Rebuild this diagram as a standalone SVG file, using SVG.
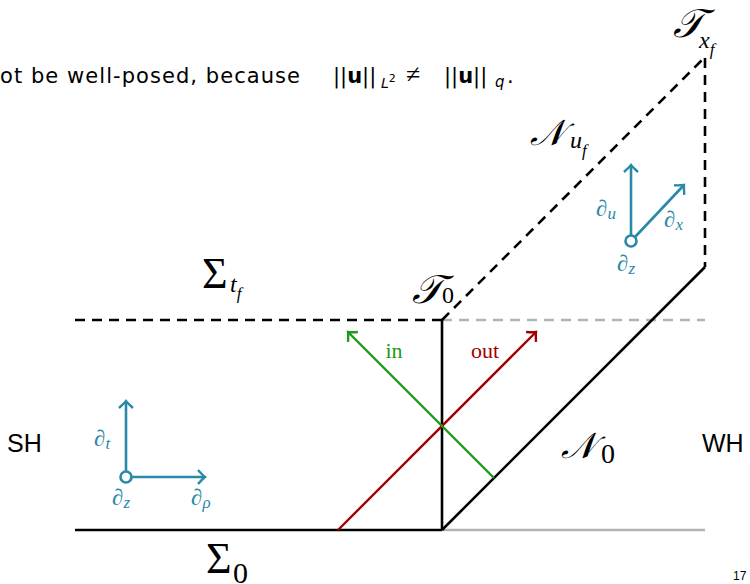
<svg xmlns="http://www.w3.org/2000/svg" width="750" height="584" viewBox="0 0 750 584">
<style>
.sans{font-family:"Liberation Sans","DejaVu Sans",sans-serif;fill:#000}
.top{font-family:"DejaVu Sans","Liberation Sans",sans-serif;fill:#000}
.m{font-family:"Liberation Serif","DejaVu Serif",serif}
.mi{font-family:"Liberation Serif","DejaVu Serif",serif;font-style:italic}
.cal{font-family:"DejaVu Serif","Liberation Serif",serif;font-style:italic}
.teal{fill:#2a88a8}
.tl{stroke:#2a88a8;stroke-width:2.6;fill:none}
.bk{stroke:#000;stroke-width:2.6;fill:none}
.gr{stroke:#b3b3b3;stroke-width:2.6;fill:none}
.dash{stroke-dasharray:10 7}
</style>
<defs>
<marker id="aT" markerUnits="userSpaceOnUse" markerWidth="20" markerHeight="20" refX="0" refY="0" viewBox="-10 -10 20 20" orient="auto"><path d="M-7,-7 Q-2,-1.5 0,0 Q-2,1.5 -7,7" fill="none" stroke="#2a88a8" stroke-width="2.4"/></marker>
<marker id="aG" markerUnits="userSpaceOnUse" markerWidth="20" markerHeight="20" refX="0" refY="0" viewBox="-10 -10 20 20" orient="auto"><path d="M-7,-7 Q-2,-1.5 0,0 Q-2,1.5 -7,7" fill="none" stroke="#1d9a1d" stroke-width="2.4"/></marker>
<marker id="aR" markerUnits="userSpaceOnUse" markerWidth="20" markerHeight="20" refX="0" refY="0" viewBox="-10 -10 20 20" orient="auto"><path d="M-7,-7 Q-2,-1.5 0,0 Q-2,1.5 -7,7" fill="none" stroke="#a00000" stroke-width="2.4"/></marker>
</defs>

<text class="top" x="0" y="83" font-size="21" textLength="300" lengthAdjust="spacing">ot be well-posed, because</text>
<g font-size="21">
<text class="top" x="333" y="83">||<tspan font-weight="bold">u</tspan>||</text>
<text class="top" x="381" y="88" font-size="14" font-style="italic">L<tspan font-style="normal" font-size="11" dy="-6">2</tspan></text>
<text class="m" x="406" y="83" font-size="26">≠</text>
<text class="top" x="444" y="83">||<tspan font-weight="bold">u</tspan>||</text>
<text class="top" x="495" y="87" font-size="15" font-style="italic">q</text>
<text class="top" x="507" y="83">.</text>
</g>

<g id="edges">
<line class="gr" x1="442" y1="530" x2="705" y2="530"/>
<line class="gr dash" x1="442" y1="320" x2="705" y2="320"/>
<line class="bk" x1="75" y1="530" x2="442" y2="530"/>
<line class="bk" x1="442" y1="320" x2="442" y2="530"/>
<line class="bk dash" x1="75" y1="320" x2="442" y2="320"/>
<line class="bk" x1="442" y1="530" x2="705" y2="267"/>
<line class="bk dash" x1="442" y1="320" x2="703" y2="59"/>
<line class="bk dash" x1="705" y1="58" x2="705" y2="267"/>
<line stroke="#a00000" stroke-width="2.4" x1="338" y1="530" x2="536" y2="332" marker-end="url(#aR)"/>
<line stroke="#1d9a1d" stroke-width="2.4" x1="494" y1="478" x2="348" y2="332" marker-end="url(#aG)"/>
</g>

<g id="labels">
<text class="m" x="394" y="358" font-size="22" fill="#1d9a1d" text-anchor="middle">in</text>
<text class="m" x="485" y="358" font-size="22" fill="#a00000" text-anchor="middle">out</text>
<text class="m" x="202" y="288" font-size="44">Σ</text>
<text class="mi" x="230" y="292" font-size="24">t<tspan font-size="17" dy="7">f</tspan></text>
<text class="m" x="206" y="573" font-size="44">Σ</text>
<text class="m" x="233" y="583" font-size="30">0</text>
<text class="cal" x="412" y="303" font-size="40">𝒯</text>
<text class="m" x="442" y="303" font-size="24">0</text>
<text class="cal" x="673" y="37" font-size="40">𝒯</text>
<text class="mi" x="699" y="48" font-size="24">x<tspan font-size="17" dy="7">f</tspan></text>
<text class="cal" x="530" y="145" font-size="36">𝒩</text>
<text class="mi" x="570" y="148" font-size="24">u<tspan font-size="17" dy="8">f</tspan></text>
<text class="cal" x="561" y="458" font-size="36">𝒩</text>
<text class="m" x="601" y="463" font-size="28">0</text>
<text class="sans" x="7" y="452" font-size="25">SH</text>
<text class="sans" x="702" y="452" font-size="25">WH</text>
<text class="sans" x="733" y="580" font-size="12">17</text>
</g>

<g id="frame-left">
<line class="tl" x1="126" y1="471" x2="126" y2="401" marker-end="url(#aT)"/>
<line class="tl" x1="132" y1="477" x2="205" y2="477" marker-end="url(#aT)"/>
<circle class="tl" cx="126" cy="477" r="5.5" stroke-width="3"/>
<text class="mi teal" x="94" y="446" font-size="23">∂<tspan font-size="17" dy="3">t</tspan></text>
<text class="mi teal" x="112" y="505" font-size="23">∂<tspan font-size="17" dy="3">z</tspan></text>
<text class="mi teal" x="191" y="505" font-size="23">∂<tspan font-size="17" dy="3">ρ</tspan></text>
</g>

<g id="frame-right">
<line class="tl" x1="631" y1="235" x2="631" y2="165" marker-end="url(#aT)"/>
<line class="tl" x1="635" y1="237" x2="684" y2="185" marker-end="url(#aT)"/>
<circle class="tl" cx="631" cy="241" r="5.5" stroke-width="3"/>
<text class="mi teal" x="596" y="216" font-size="23">∂<tspan font-size="17" dy="3">u</tspan></text>
<text class="mi teal" x="664" y="227" font-size="23">∂<tspan font-size="17" dy="3">x</tspan></text>
<text class="mi teal" x="617" y="271" font-size="23">∂<tspan font-size="17" dy="3">z</tspan></text>
</g>
</svg>
